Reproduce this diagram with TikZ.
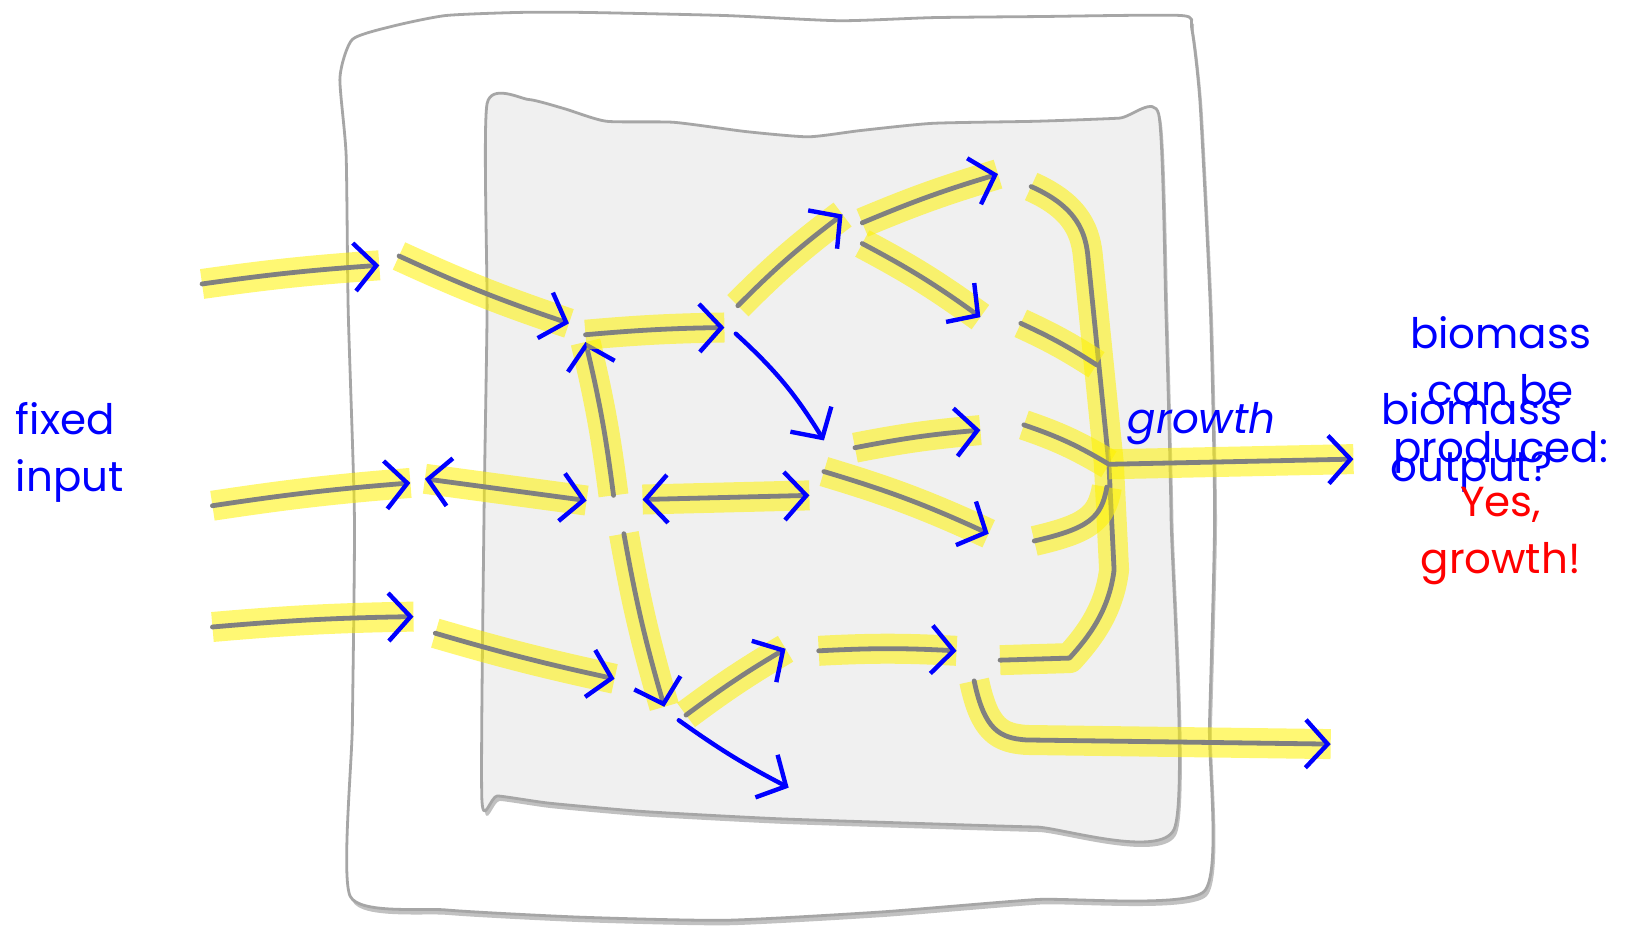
\documentclass[tikz,border=0pt]{standalone}
\usepackage{fontspec}
\setmainfont{Poppins}
\usetikzlibrary{arrows.meta,shadows}

\tikzset{
  bhead/.tip={Straight Barb[color=blue,length=11pt,width=24pt,line width=2.2pt]},
  frame/.style={draw=black!35,line width=1.4pt,
    drop shadow={shadow xshift=1.2pt,shadow yshift=-2.5pt,opacity=.35,fill=black!70}},
  band/.style={draw=yellow,line width=15pt,opacity=.55,line cap=butt,arrows=-},
  flux/.style={draw=gray,line width=2.4pt,preaction={band},-bhead},
  trunk/.style={draw=gray,line width=2.4pt,preaction={band}},
  bflux/.style={draw=blue,line width=2.2pt,-bhead},
  note/.style={text=blue,inner sep=0pt,font=\fontsize{21}{28.5}\selectfont}
}

\begin{document}
\begin{tikzpicture}[x=0.5182pt,y=-0.5182pt,line cap=round,line join=round]
\useasboundingbox (0,0) rectangle (1568,897);

% cell wall and interior
\draw[frame,fill=white] plot[smooth cycle,tension=0.35] coordinates {
  (328,75) (340,38) (380,25) (430,15) (500,12) (565,12) (700,15) (810,20)
  (900,17) (1000,16) (1140,15) (1150,28) (1158,100) (1168,300) (1172,500)
  (1167,700) (1162,860) (1000,868) (850,880) (700,888) (560,885) (430,878)
  (338,865) (340,700) (342,500) (336,300) (334,150)};
\draw[frame,fill=black!6] plot[smooth cycle,tension=0.35] coordinates {
  (470,100) (510,96) (545,105) (585,117) (650,118) (720,127) (780,132)
  (830,126) (900,119) (1000,117) (1080,114) (1118,110) (1125,300) (1130,500)
  (1133,800) (1000,798) (900,795) (750,790) (620,783) (530,775) (480,768)
  (465,772) (467,500) (470,300)};

% end points of the fluxes
\coordinate (inA) at (195,274);  \coordinate (inAt) at (366,256);
\coordinate (inB) at (205,488);  \coordinate (inBt) at (396,466);
\coordinate (inC) at (205,605);  \coordinate (inCt) at (399,595);
\coordinate (upA) at (385,247);  \coordinate (upAt) at (549,312);
\coordinate (exB) at (410,462);  \coordinate (exBt) at (566,483);
\coordinate (upC) at (420,611);  \coordinate (upCt) at (593,655);
\coordinate (rise) at (592,478); \coordinate (riset) at (565,330);
\coordinate (topA) at (565,323); \coordinate (topAt) at (699,316);
\coordinate (dia) at (710,322);  \coordinate (diat) at (795,425);
\coordinate (mid) at (620,482);  \coordinate (midt) at (781,478);
\coordinate (fall) at (602,515); \coordinate (fallt) at (641,682);
\coordinate (lowA) at (662,690); \coordinate (lowAt) at (758,626);
\coordinate (lowB) at (655,695); \coordinate (lowBt) at (761,760);
\coordinate (lowC) at (790,628); \coordinate (lowCt) at (923,628);
\coordinate (sec) at (940,657);  \coordinate (secm) at (990,714);
\coordinate (sect) at (1284,718);
\coordinate (brA) at (712,295);  \coordinate (brAt) at (813,207);
\coordinate (brB) at (832,215);  \coordinate (brBt) at (963,168);
\coordinate (brC) at (832,235);  \coordinate (brCt) at (946,306);
\coordinate (brD) at (825,432);  \coordinate (brDt) at (946,415);
\coordinate (brE) at (795,455);  \coordinate (brEt) at (954,515);
\coordinate (grw) at (1070,448); \coordinate (grwt) at (1306,443);

% fluxes through the network
\draw[flux] (inA) to[bend left=2] (inAt);
\draw[flux] (upA) to[bend right=3] (upAt);
\draw[flux] (inB) to[bend left=2] (inBt);
\draw[flux,bhead-bhead] (exB) -- (exBt);
\draw[flux] (inC) to[bend left=2] (inCt);
\draw[flux] (upC) to[bend right=2] (upCt);
\draw[flux] (rise) to[bend right=3] (riset);
\draw[flux] (topA) to[bend left=2] (topAt);
\draw[bflux] (dia) to[bend left=8] (diat);
\draw[flux,bhead-bhead] (mid) -- (midt);
\draw[flux] (fall) to[bend right=3] (fallt);
\draw[flux] (lowA) to[bend left=3] (lowAt);
\draw[bflux] (lowB) to[bend right=4] (lowBt);
\draw[flux] (lowC) to[bend left=3] (lowCt);
\draw[flux] (sec) .. controls (950,705) and (965,712) .. (secm) -- (sect);
\draw[flux] (brA) to[bend left=4] (brAt);
\draw[flux] (brB) to[bend left=3] (brBt);
\draw[flux] (brC) to[bend left=4] (brCt);
\draw[flux] (brD) to[bend left=3] (brDt);
\draw[flux] (brE) to[bend left=4] (brEt);

% drains into biomass
\draw[trunk] (995,180) .. controls (1040,200) and (1048,225) .. (1050,250)
  -- (grw) -- (1075,550) .. controls (1070,590) and (1050,615) .. (1032,635)
  -- (965,637);
\draw[trunk] (985,312) to[bend left=4] (1058,352);
\draw[trunk] (988,410) to[bend left=6] (grw);
\draw[trunk] (998,522) .. controls (1050,510) and (1063,500) .. (1068,470);
\draw[flux] (grw) -- (grwt);

% labels
\node[note,anchor=north west,align=left] (fixed) at (15,388) {fixed\\input};
\node[note,anchor=base west,font=\fontsize{21}{28.5}\selectfont\itshape] (gr) at (1088,418) {growth};
\node[note,anchor=north,align=center] (prod) at (1448,305) {biomass\\can be\\produced:};
\node[note,anchor=north,align=center] (out) at (1420,378) {biomass\\output?};
\node[note,anchor=north,align=center,text=red] (yes) at (1448,470) {Yes,\\growth!};
\end{tikzpicture}
\end{document}
